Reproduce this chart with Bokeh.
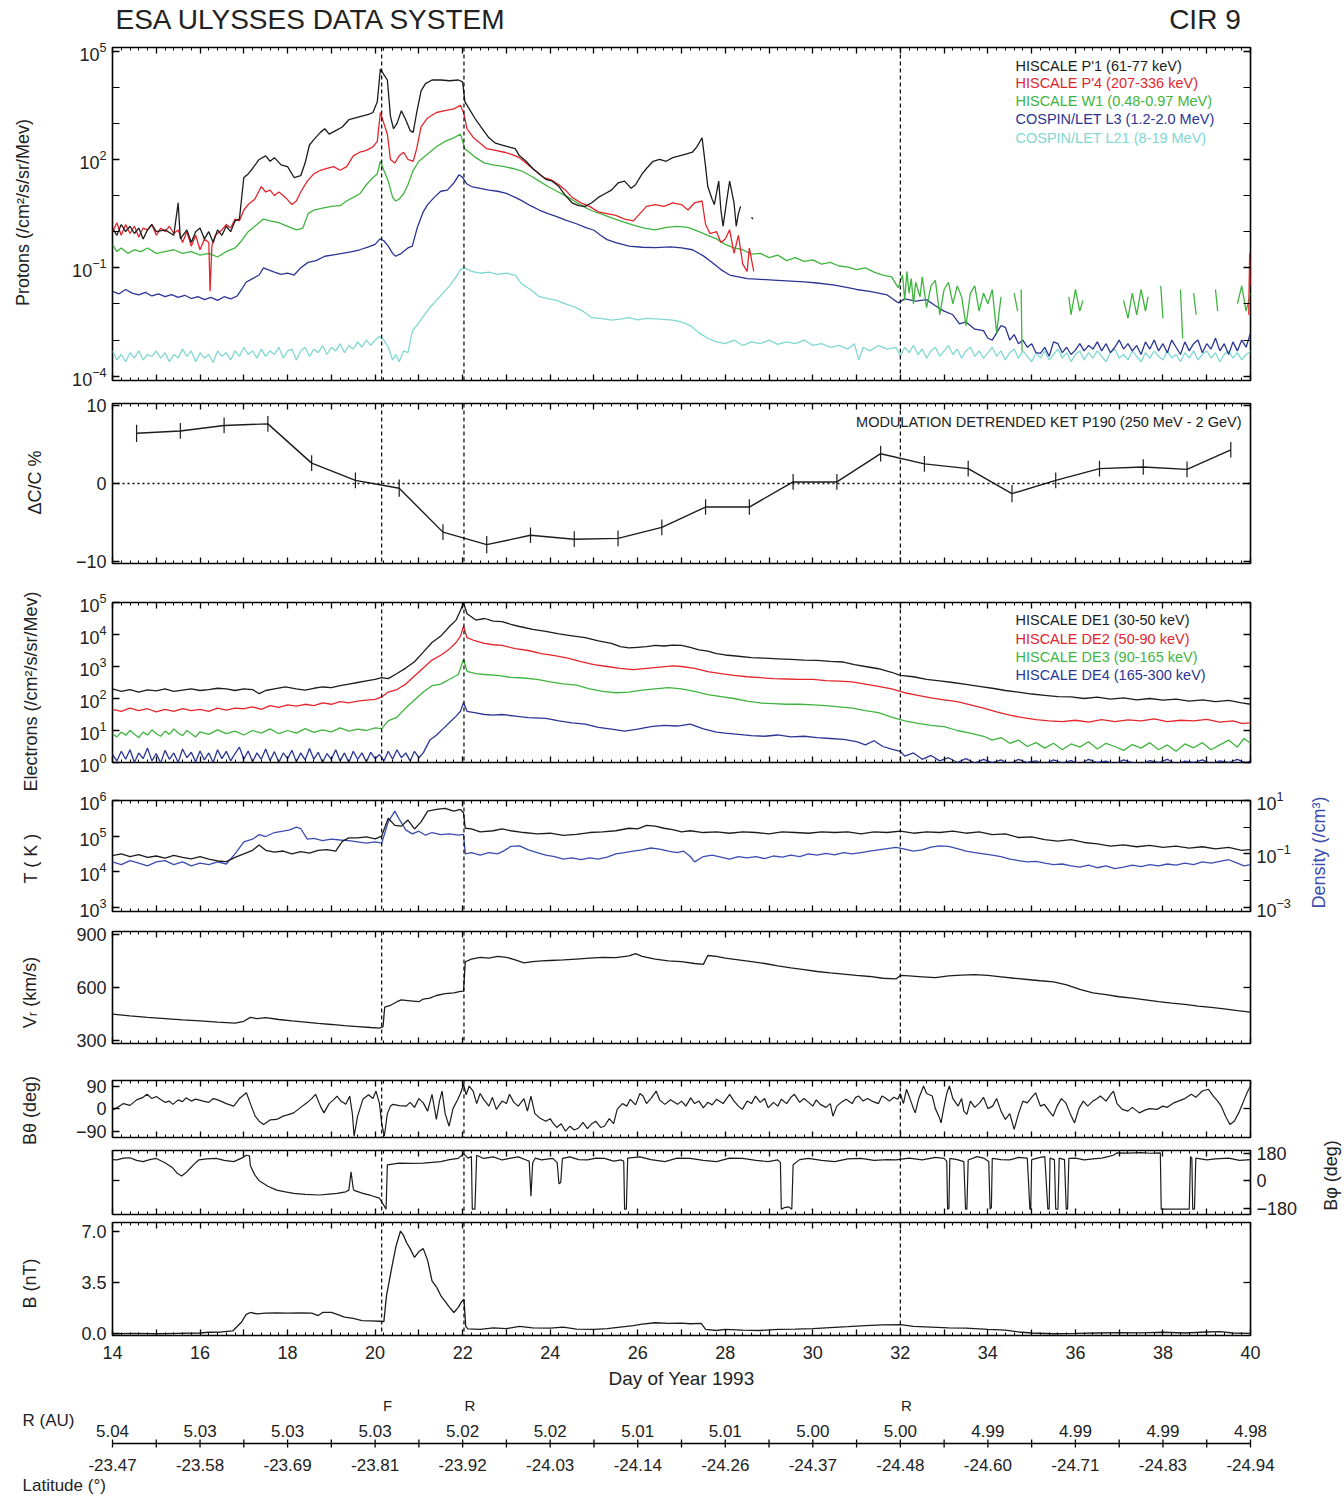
import math
from bokeh.plotting import figure
from bokeh.layouts import column, row
from bokeh.models import Range1d, LinearAxis, LogAxis, FixedTicker, Span, LogScale
from bokeh.embed import file_html
from bokeh.resources import INLINE
from bokeh.core.properties import value

NAN = float("nan")
FONT = "Liberation Sans"

# ---------------- data ----------------
EVENT_DAYS = [20.15, 22.03, 32.0]
EVENT_LABELS = ["F", "R", "R"]

# Protons, (day, log10 flux)
P1 = [(14.0, 0.10), (14.1, -0.10), (14.2, 0.20), (14.3, 0.00), (14.4, 0.15), (14.5, -0.05), (14.6, 0.10),
      (14.7, -0.20), (14.8, 0.05), (14.9, 0.20), (15.0, 0.0), (15.2, 0.05), (15.4, -0.1), (15.5, 0.8),
      (15.55, -0.2), (15.7, 0.05), (15.8, -0.3), (15.9, 0.0), (16.0, 0.1), (16.1, -0.2), (16.2, 0.0),
      (16.3, -0.3), (16.4, 0.05), (16.5, -0.1), (16.6, 0.15), (16.7, 0.0), (16.8, 0.3), (16.9, 0.35),
      (17.0, 1.5), (17.1, 1.6), (17.2, 1.75), (17.35, 2.0), (17.5, 2.1), (17.6, 1.95), (17.7, 2.05),
      (17.85, 1.85), (18.0, 1.8), (18.15, 1.5), (18.3, 1.55), (18.4, 1.9), (18.5, 2.4), (18.6, 2.55),
      (18.75, 2.75), (18.85, 2.85), (18.95, 2.7), (19.1, 2.8), (19.25, 2.9), (19.4, 3.1), (19.55, 3.15),
      (19.7, 3.2), (19.85, 3.25), (19.95, 3.3), (20.05, 3.6), (20.12, 4.5), (20.2, 4.35), (20.28, 4.2),
      (20.35, 3.2), (20.42, 2.85), (20.5, 3.0), (20.6, 3.35), (20.7, 3.1), (20.8, 2.8), (20.87, 2.75),
      (20.95, 3.3), (21.05, 3.9), (21.15, 4.1), (21.3, 4.2), (21.5, 4.2), (21.7, 4.18), (21.9, 4.2),
      (22.0, 4.15), (22.05, 3.6), (22.15, 3.4), (22.3, 3.1), (22.45, 2.85), (22.6, 2.6), (22.75, 2.45),
      (22.9, 2.4), (23.05, 2.35), (23.2, 2.3), (23.3, 2.1), (23.45, 1.95), (23.6, 1.75), (23.75, 1.6),
      (23.9, 1.45), (24.05, 1.4), (24.2, 1.25), (24.35, 1.0), (24.5, 0.8), (24.65, 0.72), (24.8, 0.7),
      (24.95, 0.8), (25.1, 0.95), (25.25, 1.05), (25.4, 1.15), (25.55, 1.35), (25.7, 1.4), (25.85, 1.2),
      (25.95, 1.3), (26.1, 1.6), (26.2, 1.75), (26.35, 1.95), (26.5, 2.0), (26.65, 1.95), (26.8, 2.05),
      (26.95, 2.1), (27.1, 2.15), (27.25, 2.2), (27.35, 2.35), (27.47, 2.6), (27.55, 1.8), (27.6, 1.25),
      (27.7, 0.9), (27.75, 0.75), (27.85, 1.4), (27.9, 0.6), (27.95, 0.15), (28.05, 1.0), (28.1, 1.4),
      (28.2, 0.8), (28.25, 0.15), (28.3, 0.5), (28.35, 0.7), (28.45, NAN), (28.6, 0.4), (28.63, 0.35)]

P4 = [(14.0, 0.0), (14.1, 0.25), (14.2, -0.1), (14.3, 0.2), (14.4, -0.05), (14.5, 0.15), (14.6, -0.15),
      (14.7, 0.1), (14.8, 0.05), (14.9, 0.2), (15.0, -0.1), (15.1, 0.1), (15.2, 0.0), (15.3, 0.15),
      (15.4, -0.05), (15.5, 0.05), (15.6, -0.3), (15.7, 0.0), (15.8, -0.4), (15.9, -0.1), (16.0, -0.5),
      (16.1, -0.2), (16.2, -0.3), (16.23, -1.65), (16.27, -0.4), (16.35, -0.1), (16.5, 0.05), (16.6, 0.2),
      (16.7, 0.1), (16.8, 0.35), (16.9, 0.3), (17.0, 0.6), (17.1, 0.75), (17.25, 0.9), (17.4, 1.25),
      (17.5, 1.1), (17.6, 1.15), (17.7, 1.0), (17.8, 1.1), (17.95, 0.95), (18.1, 0.75), (18.2, 0.85),
      (18.3, 1.1), (18.45, 1.4), (18.6, 1.6), (18.75, 1.7), (18.9, 1.75), (19.05, 1.8), (19.2, 1.7),
      (19.35, 1.8), (19.5, 2.1), (19.65, 2.2), (19.8, 2.25), (19.95, 2.35), (20.05, 2.5), (20.12, 3.3),
      (20.2, 3.0), (20.28, 2.7), (20.35, 2.0), (20.45, 1.9), (20.55, 2.1), (20.65, 2.2), (20.75, 2.0),
      (20.87, 1.95), (20.95, 2.3), (21.05, 2.9), (21.2, 3.15), (21.4, 3.3), (21.6, 3.35), (21.8, 3.4),
      (21.95, 3.5), (22.02, 3.3), (22.1, 2.85), (22.25, 2.6), (22.4, 2.45), (22.55, 2.3), (22.75, 2.25),
      (22.95, 2.2), (23.1, 2.15), (23.3, 2.05), (23.5, 1.85), (23.7, 1.65), (23.85, 1.5), (24.0, 1.45),
      (24.2, 1.3), (24.35, 1.15), (24.5, 0.95), (24.7, 0.8), (24.9, 0.7), (25.1, 0.55), (25.3, 0.5),
      (25.5, 0.45), (25.7, 0.35), (25.9, 0.3), (26.05, 0.5), (26.2, 0.7), (26.4, 0.75), (26.6, 0.7),
      (26.8, 0.8), (27.0, 0.75), (27.15, 0.6), (27.3, 0.8), (27.47, 0.85), (27.55, 0.2), (27.65, -0.05),
      (27.8, 0.0), (27.9, -0.3), (28.0, -0.2), (28.1, 0.05), (28.2, -0.6), (28.3, -0.1), (28.4, -0.9),
      (28.5, -1.1), (28.55, -0.45), (28.65, -1.1), (28.7, NAN), (39.96, -2.3), (39.98, -0.6), (40.0, -1.5)]

W1 = [(14.0, -0.35), (14.1, -0.55), (14.2, -0.45), (14.35, -0.6), (14.5, -0.5), (14.65, -0.55), (14.8, -0.45),
      (15.0, -0.6), (15.2, -0.55), (15.4, -0.5), (15.6, -0.6), (15.8, -0.55), (16.0, -0.65), (16.2, -0.6),
      (16.4, -0.7), (16.6, -0.55), (16.8, -0.45), (16.95, -0.25), (17.1, 0.0), (17.25, 0.15), (17.45, 0.35),
      (17.6, 0.3), (17.8, 0.25), (18.0, 0.15), (18.2, 0.05), (18.35, 0.1), (18.47, 0.5), (18.6, 0.6),
      (18.8, 0.65), (19.0, 0.7), (19.2, 0.72), (19.35, 0.85), (19.5, 0.95), (19.65, 1.05), (19.8, 1.3),
      (19.95, 1.5), (20.05, 1.6), (20.12, 1.95), (20.2, 1.7), (20.3, 1.4), (20.4, 0.95), (20.47, 0.85),
      (20.55, 0.9), (20.65, 1.05), (20.75, 1.3), (20.87, 1.7), (21.0, 1.95), (21.2, 2.15), (21.4, 2.35),
      (21.6, 2.5), (21.8, 2.6), (21.95, 2.7), (22.05, 2.3), (22.15, 2.2), (22.3, 2.05), (22.5, 1.9),
      (22.7, 1.85), (22.95, 1.8), (23.15, 1.75), (23.35, 1.68), (23.55, 1.55), (23.75, 1.4), (23.95, 1.25),
      (24.15, 1.12), (24.35, 1.0), (24.55, 0.85), (24.75, 0.7), (24.95, 0.58), (25.15, 0.5), (25.4, 0.38),
      (25.65, 0.28), (25.9, 0.18), (26.15, 0.1), (26.4, 0.05), (26.65, 0.12), (26.9, 0.15), (27.15, 0.12),
      (27.4, 0.0), (27.6, -0.1), (27.8, -0.2), (28.0, -0.35), (28.2, -0.45), (28.4, -0.5), (28.6, -0.62),
      (28.8, -0.6), (29.0, -0.72), (29.2, -0.65), (29.4, -0.8), (29.6, -0.72), (29.8, -0.82), (30.0, -0.78),
      (30.2, -0.9), (30.4, -0.85), (30.6, -0.95), (30.8, -0.98), (31.0, -1.05), (31.2, -1.0), (31.4, -1.12),
      (31.6, -1.2), (31.8, -1.25), (31.95, -1.55), (32.05, -1.2), (32.1, -1.9), (32.15, -1.1), (32.2, -1.7),
      (32.25, -1.3), (32.3, -2.0), (32.35, -1.4), (32.45, -1.8), (32.5, -1.25), (32.6, -2.1), (32.7, -1.5),
      (32.8, -1.35), (32.9, -2.3), (33.0, -1.6), (33.1, -1.4), (33.2, -2.0), (33.3, -1.5), (33.4, -1.8),
      (33.5, -2.6), (33.6, -1.7), (33.7, -1.5), (33.8, -2.2), (33.9, -1.7), (34.0, -2.0), (34.1, -1.6),
      (34.2, -2.8), (34.3, -1.8), (34.35, NAN), (34.6, -1.7), (34.68, -2.2), (34.72, NAN), (34.76, -1.6),
      (34.78, -3.3), (34.8, NAN), (35.85, -1.8), (35.9, -2.3), (36.0, -1.6), (36.1, -2.2), (36.17, -1.9),
      (36.2, NAN), (37.1, -1.9), (37.2, -2.4), (37.3, -1.7), (37.4, -2.3), (37.5, -1.6), (37.6, -2.2),
      (37.66, -1.8), (37.7, NAN), (37.95, -1.5), (38.0, -2.4), (38.05, NAN), (38.4, -1.6), (38.45, -2.95),
      (38.5, NAN), (38.7, -1.7), (38.76, -2.3), (38.8, NAN), (39.2, -1.6), (39.25, -2.2), (39.3, NAN),
      (39.7, -2.0), (39.8, -1.5), (39.9, -2.2), (40.0, -1.7)]

L3 = [(14.0, -1.65), (14.15, -1.72), (14.3, -1.6), (14.45, -1.7), (14.6, -1.75), (14.75, -1.68), (14.9, -1.78),
      (15.05, -1.72), (15.2, -1.8), (15.35, -1.74), (15.5, -1.82), (15.65, -1.76), (15.8, -1.85), (15.95, -1.8),
      (16.1, -1.88), (16.25, -1.82), (16.4, -1.9), (16.55, -1.8), (16.7, -1.86), (16.85, -1.78), (16.95, -1.6),
      (17.05, -1.4), (17.2, -1.3), (17.35, -1.2), (17.45, -1.0), (17.55, -1.05), (17.7, -1.12), (17.85, -1.18),
      (18.0, -1.15), (18.15, -1.2), (18.3, -1.0), (18.47, -0.85), (18.65, -0.8), (18.85, -0.68), (19.05, -0.64),
      (19.25, -0.6), (19.45, -0.56), (19.65, -0.5), (19.85, -0.42), (20.0, -0.35), (20.11, -0.2), (20.2, -0.25),
      (20.3, -0.4), (20.4, -0.6), (20.47, -0.68), (20.6, -0.6), (20.75, -0.45), (20.85, -0.4), (20.96, 0.1),
      (21.1, 0.55), (21.2, 0.75), (21.35, 0.95), (21.5, 1.12), (21.65, 1.15), (21.8, 1.35), (21.92, 1.58),
      (22.0, 1.5), (22.1, 1.32), (22.2, 1.25), (22.4, 1.2), (22.6, 1.15), (22.8, 1.12), (23.0, 1.06),
      (23.2, 0.95), (23.35, 0.86), (23.55, 0.72), (23.75, 0.6), (23.95, 0.5), (24.15, 0.42), (24.35, 0.32),
      (24.6, 0.22), (24.8, 0.12), (25.0, 0.04), (25.15, -0.1), (25.3, -0.22), (25.5, -0.3), (25.8, -0.4),
      (26.1, -0.43), (26.4, -0.44), (26.75, -0.42), (27.0, -0.45), (27.25, -0.5), (27.5, -0.67), (27.7, -0.85),
      (27.9, -1.05), (28.1, -1.2), (28.3, -1.25), (28.5, -1.3), (28.8, -1.32), (29.1, -1.34), (29.4, -1.36),
      (29.8, -1.39), (30.1, -1.42), (30.5, -1.48), (30.8, -1.55), (31.0, -1.6), (31.3, -1.65), (31.7, -1.75),
      (31.95, -1.97), (32.1, -1.86), (32.35, -1.92), (32.6, -1.88), (32.8, -2.05), (33.0, -2.2), (33.2, -2.3),
      (33.35, -2.55), (33.5, -2.5), (33.7, -2.7), (33.9, -2.74), (34.0, -2.95), (34.1, -3.0), (34.2, -2.8),
      (34.3, -2.6), (34.4, -2.65), (34.5, -3.0), (34.6, -2.85), (34.7, -3.1), (34.8, -3.0), (34.9, -3.2),
      (35.0, -3.1), (35.1, -3.35), (35.2, -3.37), (35.3, -3.2), (35.4, -3.45), (35.5, -3.05), (35.6, -3.1),
      (35.7, -3.35), (35.8, -3.2), (35.9, -3.4), (36.0, -3.28), (36.1, -3.1), (36.2, -3.3), (36.3, -3.15),
      (36.4, -3.25), (36.5, -3.05), (36.6, -3.3), (36.7, -3.1), (36.8, -3.35), (36.9, -3.2), (37.0, -3.0),
      (37.1, -3.25), (37.2, -3.1), (37.3, -3.3), (37.4, -3.15), (37.5, -3.4), (37.6, -3.05), (37.7, -3.25),
      (37.8, -3.0), (37.9, -3.3), (38.0, -3.1), (38.1, -3.35), (38.2, -3.0), (38.3, -3.2), (38.4, -3.4),
      (38.5, -3.05), (38.6, -3.3), (38.7, -3.1), (38.8, -3.0), (38.9, -3.35), (39.0, -3.1), (39.1, -3.25),
      (39.2, -2.95), (39.3, -3.3), (39.4, -3.1), (39.5, -3.4), (39.6, -3.05), (39.7, -3.3), (39.8, -3.0),
      (39.9, -3.2), (40.0, -2.8)]

L21 = [(14.0, -3.3), (14.1, -3.55), (14.2, -3.4), (14.3, -3.6), (14.4, -3.35), (14.5, -3.5), (14.6, -3.3),
       (14.7, -3.55), (14.8, -3.4), (14.9, -3.45), (15.0, -3.3), (15.1, -3.5), (15.2, -3.35), (15.3, -3.6),
       (15.4, -3.4), (15.5, -3.5), (15.6, -3.25), (15.7, -3.45), (15.8, -3.3), (15.9, -3.6), (16.0, -3.35),
       (16.1, -3.5), (16.2, -3.4), (16.3, -3.62), (16.4, -3.3), (16.5, -3.45), (16.6, -3.35), (16.7, -3.55),
       (16.8, -3.3), (16.9, -3.45), (17.0, -3.2), (17.1, -3.4), (17.2, -3.3), (17.3, -3.5), (17.4, -3.25),
       (17.5, -3.45), (17.6, -3.3), (17.7, -3.4), (17.8, -3.2), (17.9, -3.5), (18.0, -3.3), (18.1, -3.25),
       (18.2, -3.55), (18.3, -3.3), (18.4, -3.2), (18.5, -3.45), (18.6, -3.25), (18.7, -3.35), (18.8, -3.15),
       (18.9, -3.4), (19.0, -3.2), (19.1, -3.3), (19.2, -3.1), (19.3, -3.35), (19.4, -3.15), (19.5, -3.25),
       (19.6, -3.05), (19.7, -3.2), (19.8, -3.0), (19.9, -3.15), (20.0, -3.0), (20.1, -2.9), (20.2, -3.0),
       (20.3, -3.2), (20.4, -3.55), (20.47, -3.4), (20.55, -3.6), (20.65, -3.3), (20.75, -3.35), (20.85, -2.75),
       (20.95, -2.6), (21.1, -2.35), (21.25, -2.1), (21.4, -1.9), (21.55, -1.7), (21.7, -1.5), (21.85, -1.25),
       (21.95, -1.05), (22.05, -1.0), (22.2, -1.1), (22.4, -1.15), (22.6, -1.12), (22.8, -1.18), (23.0, -1.15),
       (23.2, -1.2), (23.35, -1.45), (23.55, -1.6), (23.75, -1.8), (23.95, -1.85), (24.15, -1.9), (24.35, -2.0),
       (24.55, -2.08), (24.75, -2.2), (24.95, -2.38), (25.15, -2.4), (25.4, -2.45), (25.6, -2.42), (25.8, -2.38),
       (26.0, -2.44), (26.2, -2.4), (26.5, -2.42), (26.8, -2.45), (27.0, -2.5), (27.2, -2.6), (27.4, -2.8),
       (27.6, -2.95), (27.8, -3.05), (28.0, -3.1), (28.2, -3.0), (28.4, -3.15), (28.6, -3.05), (28.8, -3.1),
       (29.0, -3.0), (29.2, -3.12), (29.4, -3.05), (29.6, -3.1), (29.8, -3.0), (30.0, -3.15), (30.2, -3.1),
       (30.4, -3.2), (30.6, -3.15), (30.8, -3.25), (30.95, -3.1), (31.05, -3.55), (31.15, -3.2), (31.3, -3.3),
       (31.5, -3.15), (31.7, -3.25), (31.9, -3.2), (32.0, -3.45), (32.1, -3.2), (32.2, -3.35), (32.3, -3.15),
       (32.4, -3.4), (32.5, -3.25), (32.6, -3.5), (32.7, -3.3), (32.8, -3.2), (32.9, -3.45), (33.0, -3.3),
       (33.1, -3.15), (33.2, -3.4), (33.3, -3.25), (33.4, -3.5), (33.5, -3.3), (33.6, -3.2), (33.7, -3.45),
       (33.8, -3.3), (33.9, -3.5), (34.0, -3.35), (34.1, -3.2), (34.2, -3.45), (34.3, -3.3), (34.4, -3.55),
       (34.5, -3.35), (34.6, -3.25), (34.7, -3.5), (34.8, -3.3), (34.9, -3.45), (35.0, -3.6), (35.1, -3.35),
       (35.2, -3.5), (35.3, -3.3), (35.4, -3.55), (35.5, -3.4), (35.6, -3.25), (35.7, -3.5), (35.8, -3.35),
       (35.9, -3.6), (36.0, -3.4), (36.1, -3.3), (36.2, -3.55), (36.3, -3.35), (36.4, -3.5), (36.5, -3.3),
       (36.6, -3.45), (36.7, -3.6), (36.8, -3.35), (36.9, -3.25), (37.0, -3.5), (37.1, -3.4), (37.2, -3.55),
       (37.3, -3.3), (37.4, -3.45), (37.5, -3.6), (37.6, -3.35), (37.7, -3.5), (37.8, -3.3), (37.9, -3.45),
       (38.0, -3.55), (38.1, -3.3), (38.2, -3.5), (38.3, -3.4), (38.4, -3.6), (38.5, -3.35), (38.6, -3.5),
       (38.7, -3.3), (38.8, -3.55), (38.9, -3.4), (39.0, -3.3), (39.1, -3.5), (39.2, -3.35), (39.3, -3.6),
       (39.4, -3.4), (39.5, -3.3), (39.6, -3.5), (39.7, -3.35), (39.8, -3.55), (39.9, -3.4), (40.0, -3.3)]

PROTON_LEGEND = ["HISCALE P'1 (61-77 keV)", "HISCALE P'4 (207-336 keV)", "HISCALE W1 (0.48-0.97 MeV)",
                 "COSPIN/LET L3 (1.2-2.0 MeV)", "COSPIN/LET L21 (8-19 MeV)"]

# Cosmic-ray modulation, percent
DCC_DAY = [14.55, 15.55, 16.55, 17.55, 18.55, 19.55, 20.55, 21.55, 22.55, 23.55, 24.55, 25.55, 26.55,
           27.55, 28.55, 29.55, 30.55, 31.55, 32.55, 33.55, 34.55, 35.55, 36.55, 37.55, 38.55, 39.55]
DCC_VAL = [6.4, 6.7, 7.4, 7.6, 2.6, 0.4, -0.6, -6.2, -7.8, -6.6, -7.1, -7.0, -5.6,
           -3.0, -3.0, 0.2, 0.2, 3.8, 2.5, 1.9, -1.3, 0.4, 1.9, 2.1, 1.8, 4.3]
DCC_ERR = [1.1, 1.0, 1.0, 1.0, 1.0, 1.0, 1.1, 1.0, 1.1, 1.0, 1.0, 1.0, 1.0,
           1.0, 1.0, 1.0, 1.0, 1.0, 1.0, 1.0, 1.1, 1.0, 1.0, 1.0, 1.0, 1.0]

# Electrons, (day, log10 flux)
DE1 = [(14.0, 2.3), (14.2, 2.22), (14.4, 2.28), (14.6, 2.2), (14.8, 2.27), (15.0, 2.24), (15.2, 2.3), (15.4, 2.22),
       (15.6, 2.26), (15.8, 2.3), (16.0, 2.25), (16.2, 2.28), (16.4, 2.32), (16.6, 2.3), (16.8, 2.25), (17.0, 2.3),
       (17.2, 2.28), (17.35, 2.15), (17.5, 2.25), (17.7, 2.3), (17.95, 2.36), (18.2, 2.3), (18.4, 2.26), (18.6, 2.32),
       (18.8, 2.36), (19.0, 2.34), (19.2, 2.4), (19.4, 2.45), (19.6, 2.5), (19.8, 2.55), (20.0, 2.6), (20.15, 2.65),
       (20.3, 2.62), (20.5, 2.78), (20.7, 2.95), (20.9, 3.15), (21.1, 3.45), (21.3, 3.75), (21.5, 3.95), (21.7, 4.25),
       (21.85, 4.45), (21.95, 4.75), (22.02, 4.99), (22.1, 4.65), (22.3, 4.45), (22.5, 4.5), (22.7, 4.42), (22.9, 4.4),
       (23.1, 4.32), (23.3, 4.25), (23.6, 4.16), (23.9, 4.1), (24.2, 4.02), (24.5, 3.96), (24.8, 3.9), (25.1, 3.8),
       (25.4, 3.72), (25.6, 3.62), (25.8, 3.58), (26.0, 3.6), (26.2, 3.62), (26.4, 3.66), (26.6, 3.64), (26.8, 3.67),
       (27.0, 3.66), (27.2, 3.6), (27.4, 3.52), (27.6, 3.48), (27.8, 3.4), (28.0, 3.36), (28.3, 3.32), (28.6, 3.28),
       (28.9, 3.26), (29.2, 3.24), (29.5, 3.22), (29.8, 3.2), (30.1, 3.19), (30.4, 3.16), (30.7, 3.14), (30.95, 3.06),
       (31.2, 3.0), (31.5, 2.93), (31.8, 2.82), (32.0, 2.72), (32.3, 2.68), (32.6, 2.6), (32.9, 2.55), (33.2, 2.5),
       (33.5, 2.44), (33.8, 2.38), (34.1, 2.32), (34.4, 2.25), (34.7, 2.2), (35.0, 2.14), (35.3, 2.1), (35.6, 2.06),
       (35.9, 2.05), (36.2, 2.0), (36.5, 2.04), (36.8, 1.98), (37.1, 2.02), (37.4, 1.96), (37.7, 2.0), (38.0, 1.95),
       (38.3, 1.98), (38.6, 1.92), (38.9, 1.96), (39.2, 1.9), (39.5, 1.94), (39.8, 1.86), (40.0, 1.82)]

DE2 = [(14.0, 1.66), (14.2, 1.6), (14.4, 1.7), (14.6, 1.62), (14.8, 1.68), (15.0, 1.58), (15.2, 1.66), (15.4, 1.6),
       (15.6, 1.68), (15.8, 1.62), (16.0, 1.66), (16.2, 1.6), (16.4, 1.7), (16.6, 1.64), (16.8, 1.7), (17.0, 1.68),
       (17.2, 1.74), (17.4, 1.66), (17.6, 1.78), (17.8, 1.72), (18.0, 1.8), (18.2, 1.76), (18.4, 1.82), (18.6, 1.78),
       (18.8, 1.86), (19.0, 1.82), (19.2, 1.9), (19.4, 1.86), (19.6, 1.92), (19.8, 1.95), (20.0, 1.97), (20.15, 2.05),
       (20.3, 2.2), (20.5, 2.28), (20.7, 2.45), (20.9, 2.7), (21.1, 2.95), (21.3, 3.2), (21.5, 3.35), (21.7, 3.55),
       (21.85, 3.75), (21.95, 3.95), (22.02, 4.26), (22.1, 3.9), (22.25, 3.82), (22.5, 3.72), (22.7, 3.68), (22.9, 3.66),
       (23.2, 3.56), (23.5, 3.5), (23.8, 3.4), (24.1, 3.34), (24.4, 3.26), (24.7, 3.15), (25.0, 3.06), (25.3, 3.0),
       (25.6, 2.94), (25.9, 2.9), (26.2, 2.94), (26.5, 2.98), (26.8, 3.02), (27.0, 3.0), (27.3, 2.94), (27.6, 2.84),
       (27.9, 2.78), (28.2, 2.72), (28.5, 2.68), (28.8, 2.65), (29.1, 2.62), (29.4, 2.61), (29.7, 2.6), (30.0, 2.6),
       (30.3, 2.56), (30.6, 2.54), (30.9, 2.52), (31.2, 2.45), (31.5, 2.38), (31.8, 2.3), (32.1, 2.18), (32.4, 2.1),
       (32.7, 2.02), (33.0, 1.96), (33.3, 1.9), (33.6, 1.8), (33.9, 1.7), (34.2, 1.58), (34.5, 1.48), (34.8, 1.4),
       (35.1, 1.34), (35.4, 1.3), (35.7, 1.28), (36.0, 1.32), (36.3, 1.26), (36.6, 1.34), (36.9, 1.28), (37.2, 1.33),
       (37.5, 1.3), (37.8, 1.36), (38.1, 1.28), (38.4, 1.32), (38.7, 1.3), (39.0, 1.35), (39.3, 1.26), (39.6, 1.3),
       (39.8, 1.22), (40.0, 1.24)]

DE3 = [(14.0, 0.9), (14.1, 0.8), (14.2, 0.95), (14.3, 0.85), (14.4, 1.0), (14.5, 0.88), (14.6, 0.78), (14.7, 0.95),
       (14.8, 0.86), (14.9, 1.02), (15.0, 0.9), (15.1, 0.82), (15.2, 0.98), (15.3, 0.88), (15.4, 1.05), (15.5, 0.92),
       (15.6, 0.84), (15.7, 1.0), (15.8, 0.9), (15.9, 0.8), (16.0, 0.96), (16.2, 0.88), (16.4, 1.02), (16.6, 0.9),
       (16.8, 0.98), (17.0, 0.86), (17.2, 1.0), (17.4, 0.92), (17.6, 1.05), (17.8, 0.9), (18.0, 1.0), (18.2, 0.92),
       (18.4, 1.06), (18.6, 0.94), (18.8, 1.02), (19.0, 0.96), (19.2, 1.08), (19.4, 0.98), (19.6, 1.04), (19.8, 1.0),
       (20.0, 1.08), (20.15, 1.06), (20.3, 1.3), (20.5, 1.42), (20.7, 1.7), (20.9, 1.95), (21.1, 2.2), (21.3, 2.4),
       (21.5, 2.45), (21.7, 2.6), (21.9, 2.75), (22.02, 3.22), (22.1, 2.85), (22.3, 2.78), (22.5, 2.75), (22.8, 2.72),
       (23.1, 2.66), (23.4, 2.64), (23.7, 2.6), (24.0, 2.52), (24.3, 2.46), (24.6, 2.42), (24.9, 2.3), (25.2, 2.22),
       (25.5, 2.18), (25.8, 2.2), (26.1, 2.26), (26.4, 2.3), (26.7, 2.34), (27.0, 2.3), (27.3, 2.22), (27.6, 2.12),
       (27.9, 2.06), (28.2, 2.0), (28.5, 1.92), (28.8, 1.86), (29.1, 1.84), (29.4, 1.82), (29.7, 1.82), (30.0, 1.8),
       (30.3, 1.78), (30.6, 1.74), (30.9, 1.7), (31.2, 1.62), (31.5, 1.56), (31.8, 1.42), (32.1, 1.3), (32.4, 1.22),
       (32.7, 1.16), (33.0, 1.12), (33.3, 1.0), (33.6, 0.92), (33.9, 0.82), (34.1, 0.7), (34.3, 0.78), (34.5, 0.6),
       (34.7, 0.7), (34.9, 0.5), (35.1, 0.62), (35.3, 0.45), (35.5, 0.6), (35.7, 0.4), (35.9, 0.58), (36.1, 0.48),
       (36.3, 0.65), (36.5, 0.42), (36.7, 0.6), (36.9, 0.5), (37.1, 0.38), (37.3, 0.56), (37.5, 0.45), (37.7, 0.62),
       (37.9, 0.4), (38.1, 0.55), (38.3, 0.35), (38.5, 0.58), (38.7, 0.46), (38.9, 0.62), (39.1, 0.4), (39.3, 0.55),
       (39.5, 0.7), (39.7, 0.48), (39.85, 0.75), (40.0, 0.6)]

DE4 = [(14.0, 0.25), (14.1, 0.05), (14.2, 0.35), (14.3, 0.1), (14.4, 0.4), (14.5, 0.0), (14.6, 0.3), (14.7, 0.12),
       (14.8, 0.45), (14.9, 0.05), (15.0, 0.28), (15.1, -0.02), (15.2, 0.38), (15.3, 0.1), (15.4, 0.3), (15.5, 0.0),
       (15.6, 0.42), (15.7, 0.15), (15.8, 0.32), (15.9, 0.02), (16.0, 0.36), (16.1, 0.08), (16.2, 0.3), (16.3, 0.0),
       (16.4, 0.4), (16.5, 0.12), (16.6, 0.35), (16.7, 0.05), (16.8, 0.28), (16.9, 0.48), (17.0, 0.1), (17.1, 0.36),
       (17.2, 0.02), (17.3, 0.3), (17.4, 0.1), (17.5, 0.42), (17.6, 0.06), (17.7, 0.34), (17.8, 0.0), (17.9, 0.3),
       (18.0, 0.12), (18.1, 0.38), (18.2, 0.02), (18.3, 0.3), (18.4, 0.08), (18.5, 0.44), (18.6, 0.1), (18.7, 0.32),
       (18.8, 0.0), (18.9, 0.28), (19.0, 0.1), (19.1, 0.4), (19.2, 0.05), (19.3, 0.3), (19.4, 0.0), (19.5, 0.35),
       (19.6, 0.1), (19.7, 0.3), (19.8, 0.02), (19.9, 0.32), (20.0, 0.12), (20.1, 0.25), (20.2, 0.05), (20.3, 0.35),
       (20.4, 0.1), (20.5, 0.4), (20.6, 0.15), (20.7, 0.3), (20.8, 0.05), (20.9, 0.35), (21.0, 0.15), (21.1, 0.3),
       (21.25, 0.7), (21.4, 0.85), (21.55, 1.05), (21.7, 1.25), (21.85, 1.45), (21.95, 1.6), (22.02, 1.87), (22.1, 1.6),
       (22.3, 1.55), (22.5, 1.5), (22.7, 1.48), (22.9, 1.5), (23.2, 1.45), (23.5, 1.4), (23.9, 1.38), (24.2, 1.3),
       (24.5, 1.24), (24.8, 1.2), (25.1, 1.1), (25.4, 1.04), (25.7, 0.98), (26.0, 1.04), (26.3, 1.12), (26.6, 1.16),
       (26.9, 1.14), (27.2, 1.2), (27.5, 1.05), (27.8, 0.95), (28.0, 0.92), (28.3, 0.88), (28.6, 0.84), (28.9, 0.82),
       (29.2, 0.86), (29.5, 0.8), (29.8, 0.82), (30.1, 0.78), (30.4, 0.75), (30.7, 0.72), (31.0, 0.65), (31.2, 0.55),
       (31.4, 0.68), (31.6, 0.5), (31.8, 0.42), (32.0, 0.35), (32.1, 0.2), (32.3, 0.3), (32.5, 0.1), (32.7, 0.22),
       (32.9, 0.05), (33.1, 0.15), (33.3, 0.0), (33.5, 0.12), (33.7, -0.02), (33.9, 0.1), (34.1, 0.0), (34.3, 0.08),
       (34.5, -0.05), (34.7, 0.1), (34.9, 0.0), (35.1, 0.05), (35.3, -0.05), (35.5, 0.08), (35.7, -0.02), (35.9, 0.06),
       (36.1, -0.05), (36.3, 0.1), (36.5, 0.0), (36.7, 0.04), (36.9, -0.05), (37.1, 0.08), (37.3, 0.0), (37.5, -0.05),
       (37.7, 0.06), (37.9, 0.0), (38.1, 0.1), (38.3, -0.05), (38.5, 0.04), (38.7, 0.0), (38.9, 0.08), (39.1, -0.04),
       (39.3, 0.05), (39.5, 0.0), (39.7, 0.1), (39.9, -0.02), (40.0, 0.05)]

ELECTRON_LEGEND = ["HISCALE DE1 (30-50 keV)", "HISCALE DE2 (50-90 keV)", "HISCALE DE3 (90-165 keV)",
                   "HISCALE DE4 (165-300 keV)"]

# Temperature (log10 K) and density (log10 /cm3)
TEMP = [(14.0, 4.45), (14.2, 4.5), (14.4, 4.42), (14.6, 4.48), (14.8, 4.4), (15.0, 4.44), (15.2, 4.38), (15.4, 4.46),
        (15.6, 4.4), (15.8, 4.36), (16.0, 4.42), (16.2, 4.35), (16.4, 4.3), (16.6, 4.28), (16.8, 4.4), (17.0, 4.5),
        (17.2, 4.6), (17.35, 4.75), (17.5, 4.6), (17.7, 4.55), (17.9, 4.58), (18.1, 4.5), (18.3, 4.56), (18.5, 4.52),
        (18.7, 4.6), (18.9, 4.62), (19.1, 4.58), (19.25, 4.85), (19.4, 4.95), (19.6, 4.95), (19.8, 4.98), (20.0, 4.92),
        (20.15, 5.0), (20.3, 5.5), (20.45, 5.3), (20.6, 5.28), (20.75, 5.45), (20.9, 5.2), (21.05, 5.4), (21.2, 5.7),
        (21.4, 5.75), (21.6, 5.78), (21.8, 5.7), (21.95, 5.75), (22.02, 5.65), (22.06, 5.22), (22.2, 5.2), (22.4, 5.12),
        (22.7, 5.15), (22.9, 5.2), (23.1, 5.15), (23.4, 5.1), (23.7, 5.06), (24.0, 5.08), (24.3, 5.02), (24.6, 5.05),
        (24.9, 5.1), (25.2, 5.12), (25.5, 5.15), (25.8, 5.22), (26.0, 5.2), (26.2, 5.3), (26.4, 5.28), (26.6, 5.22),
        (26.8, 5.18), (27.0, 5.12), (27.2, 5.15), (27.5, 5.1), (27.8, 5.12), (28.1, 5.08), (28.4, 5.12), (28.7, 5.1),
        (29.0, 5.06), (29.3, 5.12), (29.6, 5.1), (29.9, 5.08), (30.2, 5.12), (30.5, 5.1), (30.8, 5.12), (31.1, 5.06),
        (31.4, 5.12), (31.7, 5.1), (32.0, 5.14), (32.3, 5.08), (32.6, 5.12), (32.9, 5.1), (33.2, 5.14), (33.5, 5.08),
        (33.8, 5.12), (34.1, 5.04), (34.4, 5.06), (34.7, 4.96), (35.0, 4.98), (35.3, 4.9), (35.6, 4.86), (35.9, 4.9),
        (36.2, 4.82), (36.5, 4.78), (36.8, 4.72), (37.1, 4.75), (37.4, 4.7), (37.7, 4.74), (38.0, 4.68), (38.3, 4.72),
        (38.6, 4.66), (38.9, 4.7), (39.2, 4.64), (39.5, 4.68), (39.8, 4.6), (40.0, 4.62)]

DENS = [(14.0, -1.3), (14.2, -1.4), (14.4, -1.25), (14.6, -1.35), (14.8, -1.45), (15.0, -1.3), (15.2, -1.25),
        (15.4, -1.4), (15.6, -1.3), (15.8, -1.45), (16.0, -1.35), (16.2, -1.4), (16.4, -1.3), (16.6, -1.38),
        (16.8, -1.0), (17.0, -0.55), (17.2, -0.45), (17.35, -0.28), (17.5, -0.35), (17.7, -0.2), (17.9, -0.15),
        (18.05, -0.1), (18.2, 0.0), (18.3, -0.05), (18.45, -0.45), (18.6, -0.42), (18.8, -0.5), (19.0, -0.45),
        (19.2, -0.48), (19.4, -0.5), (19.6, -0.55), (19.8, -0.6), (20.0, -0.55), (20.15, -0.6), (20.3, 0.2),
        (20.45, 0.6), (20.55, 0.3), (20.7, -0.1), (20.85, -0.25), (21.0, -0.15), (21.15, -0.3), (21.3, -0.2),
        (21.5, -0.28), (21.7, -0.25), (21.9, -0.3), (22.02, -0.27), (22.06, -1.0), (22.2, -0.95), (22.4, -1.05),
        (22.6, -0.95), (22.8, -1.0), (22.95, -0.88), (23.1, -0.72), (23.3, -0.7), (23.5, -0.85), (23.7, -0.95),
        (23.9, -1.05), (24.1, -1.1), (24.3, -1.2), (24.5, -1.15), (24.7, -1.22), (24.9, -1.15), (25.1, -1.2),
        (25.3, -1.12), (25.5, -1.0), (25.7, -0.95), (25.9, -0.9), (26.1, -0.85), (26.3, -0.78), (26.5, -0.82),
        (26.7, -0.9), (26.9, -0.95), (27.05, -0.9), (27.2, -1.1), (27.3, -1.3), (27.5, -1.1), (27.7, -1.05),
        (27.9, -1.12), (28.1, -1.2), (28.3, -1.1), (28.5, -1.15), (28.7, -1.1), (28.9, -1.18), (29.1, -1.08),
        (29.3, -1.12), (29.5, -1.05), (29.7, -1.1), (29.9, -1.0), (30.1, -1.05), (30.3, -0.98), (30.5, -1.04),
        (30.7, -0.95), (30.9, -1.0), (31.1, -0.95), (31.3, -0.9), (31.5, -0.85), (31.7, -0.8), (31.9, -0.76),
        (32.1, -0.82), (32.3, -0.9), (32.5, -0.85), (32.7, -0.75), (32.9, -0.7), (33.1, -0.72), (33.3, -0.8),
        (33.5, -0.9), (33.7, -0.95), (33.9, -1.0), (34.1, -1.05), (34.3, -1.1), (34.5, -1.2), (34.7, -1.25),
        (34.9, -1.3), (35.1, -1.28), (35.3, -1.35), (35.5, -1.4), (35.7, -1.38), (35.9, -1.45), (36.1, -1.5),
        (36.3, -1.42), (36.5, -1.52), (36.7, -1.45), (36.9, -1.55), (37.1, -1.5), (37.3, -1.42), (37.5, -1.48),
        (37.7, -1.4), (37.9, -1.45), (38.1, -1.38), (38.3, -1.42), (38.5, -1.35), (38.7, -1.4), (38.9, -1.3),
        (39.1, -1.35), (39.3, -1.28), (39.5, -1.22), (39.7, -1.35), (39.85, -1.45), (40.0, -1.4)]

# Radial solar wind speed (km/s)
VR = [(14.0, 450), (14.4, 440), (14.8, 432), (15.2, 425), (15.6, 418), (16.0, 412), (16.4, 405), (16.8, 400),
      (17.0, 410), (17.15, 432), (17.3, 425), (17.5, 430), (17.8, 420), (18.1, 412), (18.4, 405), (18.7, 398),
      (19.0, 392), (19.3, 385), (19.6, 380), (19.9, 375), (20.1, 372), (20.18, 380), (20.22, 490), (20.35, 500),
      (20.5, 520), (20.6, 530), (20.8, 525), (21.0, 520), (21.1, 535), (21.25, 540), (21.4, 555), (21.6, 565),
      (21.8, 570), (21.95, 578), (22.02, 580), (22.06, 745), (22.2, 760), (22.4, 770), (22.6, 765), (22.8, 775),
      (23.0, 770), (23.2, 755), (23.4, 738), (23.6, 745), (23.8, 750), (24.0, 752), (24.3, 755), (24.6, 760),
      (24.9, 765), (25.2, 770), (25.5, 768), (25.8, 778), (25.95, 790), (26.1, 775), (26.4, 760), (26.7, 750),
      (27.0, 745), (27.3, 735), (27.5, 730), (27.6, 780), (27.8, 775), (28.0, 765), (28.3, 755), (28.6, 745),
      (28.9, 735), (29.2, 722), (29.5, 710), (29.8, 700), (30.1, 690), (30.4, 682), (30.7, 675), (31.0, 668),
      (31.3, 662), (31.6, 652), (31.9, 648), (32.0, 668), (32.2, 665), (32.5, 660), (32.8, 655), (33.1, 665),
      (33.4, 670), (33.7, 672), (34.0, 668), (34.3, 660), (34.6, 652), (34.9, 645), (35.2, 638), (35.5, 632),
      (35.8, 615), (36.1, 590), (36.4, 570), (36.7, 560), (37.0, 548), (37.3, 540), (37.6, 530), (37.9, 520),
      (38.2, 512), (38.5, 505), (38.8, 495), (39.1, 488), (39.4, 480), (39.7, 470), (40.0, 462)]

# Field latitude angle (deg)
BTH = [(14.0, -5), (14.1, 3), (14.25, 20), (14.4, 13), (14.55, 35), (14.7, 45), (14.79, 57), (14.9, 40), (15.0, 48),
       (15.09, 37), (15.2, 25), (15.3, 30), (15.38, 17), (15.5, 35), (15.6, 28), (15.68, 43), (15.8, 30), (15.9, 38),
       (16.07, 30), (16.2, 25), (16.3, 40), (16.37, 37), (16.5, 28), (16.6, 20), (16.77, 10), (16.9, 40), (17.06, 63),
       (17.15, 20), (17.26, -30), (17.35, -50), (17.45, -63), (17.6, -45), (17.75, -43), (17.9, -30), (18.0, -25),
       (18.14, -17), (18.3, 5), (18.44, 23), (18.55, 40), (18.64, 57), (18.75, 10), (18.83, -17), (18.95, 20),
       (19.05, 35), (19.13, 50), (19.22, 30), (19.33, 17), (19.42, 50), (19.48, -20), (19.52, -110), (19.6, -30),
       (19.72, 37), (19.85, 55), (19.95, 40), (20.02, 70), (20.1, 20), (20.15, -60), (20.21, -110), (20.28, -20),
       (20.35, 10), (20.41, 17), (20.55, 12), (20.71, 10), (20.8, 25), (20.9, 5), (21.0, 40), (21.1, 23), (21.2, -10),
       (21.3, 57), (21.4, -43), (21.47, 30), (21.53, 70), (21.6, -20), (21.69, -70), (21.78, 0), (21.89, 37),
       (21.95, 60), (22.02, 97), (22.08, 55), (22.15, 90), (22.24, 70), (22.32, 20), (22.4, 60), (22.48, 37),
       (22.6, 10), (22.68, 45), (22.77, -3), (22.9, 30), (23.0, 20), (23.07, 57), (23.17, 25), (23.27, 10),
       (23.4, 40), (23.48, -10), (23.56, 50), (23.65, -20), (23.76, -37), (23.9, -50), (24.0, -40), (24.06, -57),
       (24.15, -75), (24.25, -60), (24.35, -90), (24.45, -70), (24.55, -85), (24.65, -77), (24.75, -55), (24.85, -80),
       (24.95, -60), (25.04, -50), (25.15, -75), (25.24, -70), (25.35, -40), (25.45, -60), (25.53, -3), (25.65, 20),
       (25.75, 10), (25.83, 37), (25.95, 15), (26.05, 60), (26.12, 50), (26.2, 20), (26.3, 40), (26.42, 70),
       (26.5, 35), (26.62, 17), (26.75, 35), (26.91, 17), (27.0, 30), (27.1, 10), (27.21, 43), (27.3, 20), (27.4, 30),
       (27.5, 3), (27.6, 25), (27.7, 15), (27.8, 37), (27.95, 20), (28.1, 57), (28.2, 30), (28.3, 10), (28.39, -3),
       (28.5, 30), (28.6, 20), (28.69, 50), (28.8, 25), (28.9, 40), (28.98, 3), (29.1, 25), (29.2, 10), (29.28, 37),
       (29.4, 20), (29.5, 45), (29.58, 57), (29.7, 25), (29.8, 40), (29.87, 30), (30.0, 10), (30.08, 35), (30.17, 17),
       (30.3, 5), (30.4, 20), (30.46, -30), (30.55, 10), (30.65, 25), (30.76, 37), (30.9, 20), (30.98, 45), (31.05, 50),
       (31.15, 30), (31.25, 40), (31.35, 30), (31.5, 20), (31.58, 50), (31.65, 43), (31.75, 30), (31.85, 45),
       (31.94, 37), (32.0, 60), (32.07, 20), (32.14, 77), (32.22, 40), (32.3, 0), (32.34, -17), (32.42, 40),
       (32.53, 90), (32.6, 60), (32.73, 50), (32.8, 0), (32.88, -30), (32.93, -57), (33.0, 10), (33.06, 60),
       (33.12, 90), (33.2, 40), (33.32, 10), (33.4, 40), (33.45, -10), (33.52, -23), (33.6, 30), (33.7, 5),
       (33.81, 23), (33.9, 45), (34.0, 0), (34.11, 10), (34.2, 40), (34.3, -10), (34.4, -43), (34.5, -20),
       (34.6, -83), (34.7, -20), (34.8, 30), (34.9, 23), (35.0, 45), (35.09, 63), (35.2, 10), (35.29, 17),
       (35.4, -10), (35.49, -30), (35.58, 10), (35.68, 40), (35.78, 23), (35.88, -20), (35.98, -57), (36.08, 0),
       (36.18, 30), (36.28, 10), (36.4, 30), (36.5, 40), (36.57, 50), (36.7, 30), (36.8, 55), (36.87, 70),
       (36.95, 20), (37.07, -3), (37.2, -10), (37.3, 5), (37.46, -17), (37.6, -5), (37.7, 0), (37.86, -3),
       (38.0, 10), (38.1, 5), (38.25, 23), (38.35, 30), (38.5, 40), (38.65, 57), (38.75, 45), (38.9, 70),
       (39.04, 77), (39.15, 50), (39.25, 30), (39.33, 10), (39.43, -30), (39.53, -63), (39.63, -50), (39.73, -17),
       (39.82, 20), (39.92, 63), (40.0, 90)]

# Field azimuth angle (deg)
BPH = [(14.0, 140), (14.1, 138), (14.25, 150), (14.4, 152), (14.55, 135), (14.7, 127), (14.85, 140), (15.0, 148),
       (15.2, 120), (15.38, 85), (15.48, 50), (15.58, 33), (15.68, 55), (15.78, 85), (15.9, 120), (15.97, 138),
       (16.15, 145), (16.37, 148), (16.55, 135), (16.77, 127), (16.95, 150), (17.06, 169), (17.13, 165), (17.15, 100),
       (17.25, 40), (17.35, 2), (17.55, -35), (17.75, -60), (17.95, -72), (18.14, -81), (18.4, -88), (18.73, -92),
       (18.95, -86), (19.13, -81), (19.33, -71), (19.4, -60), (19.45, 60), (19.5, -50), (19.52, -62), (19.72, -81),
       (19.9, -95), (20.1, -113), (20.2, -160), (20.25, -185), (20.28, 106), (20.55, 117), (20.8, 115), (21.1, 117),
       (21.3, 122), (21.5, 127), (21.7, 140), (21.9, 148), (22.02, 179), (22.12, 150), (22.2, 160), (22.22, -185),
       (22.28, -185), (22.32, 169), (22.48, 148), (22.7, 158), (22.9, 138), (23.1, 150), (23.27, 158), (23.45, 138),
       (23.52, 130), (23.56, -100), (23.6, 120), (23.66, 150), (23.8, 138), (24.06, 148), (24.16, 120), (24.2, -19),
       (24.24, -10), (24.28, 148), (24.45, 158), (24.65, 140), (24.85, 138), (25.05, 150), (25.24, 148), (25.45, 130),
       (25.62, 138), (25.68, 130), (25.7, -185), (25.74, -185), (25.77, 150), (26.05, 158), (26.3, 140), (26.62, 127),
       (26.9, 150), (27.2, 148), (27.5, 135), (27.8, 127), (28.1, 150), (28.4, 148), (28.7, 135), (28.98, 127),
       (29.2, 138), (29.26, 120), (29.28, -185), (29.35, -175), (29.45, -170), (29.52, -185), (29.55, 106),
       (29.7, 140), (29.9, 148), (30.2, 135), (30.5, 127), (30.8, 145), (31.1, 148), (31.4, 135), (31.7, 140),
       (31.9, 138), (32.2, 150), (32.5, 138), (32.8, 155), (33.0, 148), (33.06, 130), (33.08, -185), (33.11, -180),
       (33.13, 148), (33.3, 140), (33.45, 127), (33.49, -185), (33.52, -185), (33.55, 138), (33.75, 160),
       (33.9, 150), (34.02, 127), (34.05, -185), (34.08, -175), (34.1, 148), (34.3, 140), (34.5, 138), (34.7, 155),
       (34.9, 150), (34.96, -185), (34.98, -185), (35.0, 140), (35.2, 155), (35.3, 160), (35.37, -185), (35.4, -185),
       (35.42, 150), (35.52, 140), (35.55, -185), (35.6, -185), (35.63, 150), (35.75, 140), (35.79, -185),
       (35.82, -185), (35.85, 148), (36.0, 150), (36.2, 138), (36.4, 145), (36.6, 150), (36.75, 160), (36.87, 169),
       (36.95, 185), (37.2, 183), (37.5, 186), (37.7, 182), (37.94, 185), (37.96, -185), (38.3, -185), (38.6, -185),
       (38.63, 160), (38.66, 150), (38.68, -185), (38.72, -185), (38.75, 150), (39.0, 138), (39.2, 145), (39.5, 150),
       (39.75, 135), (40.0, 140)]

# Field magnitude (nT)
BMAG = [(14.0, 0.0), (14.5, 0.02), (15.0, 0.0), (15.5, 0.03), (16.0, 0.05), (16.2, 0.1), (16.5, 0.12), (16.75, 0.2),
        (16.95, 0.8), (17.05, 1.3), (17.15, 1.45), (17.3, 1.35), (17.5, 1.4), (17.75, 1.42), (18.0, 1.4),
        (18.3, 1.42), (18.55, 1.4), (18.7, 1.24), (18.8, 1.45), (19.0, 1.45), (19.15, 1.3), (19.3, 1.13),
        (19.5, 1.05), (19.7, 0.9), (19.9, 0.88), (20.1, 0.85), (20.2, 0.82), (20.26, 2.6), (20.38, 4.5),
        (20.48, 6.0), (20.58, 7.0), (20.65, 6.7), (20.72, 6.2), (20.8, 5.8), (20.9, 5.2), (21.0, 5.6), (21.1, 5.8),
        (21.2, 5.0), (21.3, 3.6), (21.4, 3.2), (21.5, 2.6), (21.6, 2.2), (21.7, 1.8), (21.8, 1.45), (21.9, 1.8),
        (21.98, 2.2), (22.03, 2.35), (22.07, 0.5), (22.12, 0.33), (22.4, 0.3), (22.7, 0.4), (23.0, 0.35),
        (23.3, 0.5), (23.6, 0.4), (24.0, 0.38), (24.3, 0.45), (24.6, 0.32), (25.0, 0.3), (25.3, 0.35), (25.6, 0.45),
        (25.9, 0.55), (26.1, 0.65), (26.4, 0.75), (26.7, 0.7), (27.0, 0.72), (27.2, 0.68), (27.45, 0.7),
        (27.55, 0.3), (27.8, 0.22), (28.0, 0.3), (28.4, 0.25), (28.8, 0.22), (29.2, 0.3), (29.6, 0.32), (30.0, 0.35),
        (30.4, 0.42), (30.8, 0.48), (31.2, 0.55), (31.6, 0.6), (32.0, 0.62), (32.3, 0.5), (32.7, 0.45), (33.1, 0.4),
        (33.5, 0.38), (34.0, 0.3), (34.4, 0.25), (34.7, 0.12), (35.0, 0.05), (35.5, 0.0), (36.0, 0.02), (36.5, 0.05),
        (37.0, 0.08), (37.5, 0.06), (38.0, 0.1), (38.5, 0.05), (39.0, 0.12), (39.3, 0.15), (39.6, 0.05), (40.0, 0.02)]

# Orbit table
ORBIT_DAYS = [14, 16, 18, 20, 22, 24, 26, 28, 30, 32, 34, 36, 38, 40]
R_AU = ["5.04", "5.03", "5.03", "5.03", "5.02", "5.02", "5.01", "5.01", "5.00", "5.00", "4.99", "4.99", "4.99", "4.98"]
LATITUDE = ["-23.47", "-23.58", "-23.69", "-23.81", "-23.92", "-24.03", "-24.14", "-24.26", "-24.37", "-24.48",
            "-24.60", "-24.71", "-24.83", "-24.94"]

# ---------------- styling ----------------
BLACK = "#1c1c1c"
RED = "#e3262c"
GREEN = "#3fb43f"
NAVY = "#2b3595"
CYAN = "#80d8d2"
DBLUE = "#3b4cb0"

FRAME_W = 1138
LEFT_B = 62
RIGHT_B = 54
PANEL_W = LEFT_B + FRAME_W + RIGHT_B
TICK_FS = "18px"
HEADER_H = 36

XR = Range1d(14, 40)
X_MAJOR = list(range(14, 41))
X_MINOR = [round(14 + 0.2 * i, 2) for i in range(131)]


def split(pairs, log=False):
    xs = [a for a, b in pairs]
    ys = [(10 ** b if log else b) for a, b in pairs]
    return xs, ys


def hide_labels(ax):
    ax.major_label_text_color = None
    ax.major_label_standoff = 0


def style_common(ax):
    ax.axis_line_color = None
    ax.major_tick_out = 0
    ax.minor_tick_out = 0
    ax.major_tick_line_color = "black"
    ax.minor_tick_line_color = "black"
    ax.major_tick_line_width = 1.3
    ax.minor_tick_line_width = 1.0
    ax.major_label_text_font = FONT
    ax.major_label_text_font_size = TICK_FS
    ax.major_label_text_color = "#222222"


def style_x(ax, labels=False):
    style_common(ax)
    ax.ticker = FixedTicker(ticks=X_MAJOR, minor_ticks=X_MINOR)
    ax.major_tick_in = 6
    ax.minor_tick_in = 3
    if labels:
        ax.major_label_overrides = {d: "" for d in X_MAJOR if d % 2 == 1}
        ax.major_label_standoff = 10
    else:
        hide_labels(ax)


def style_y(ax, ticks, minor, labels=True, tick_len=7):
    style_common(ax)
    ax.ticker = FixedTicker(ticks=ticks, minor_ticks=minor)
    ax.major_tick_in = tick_len
    ax.minor_tick_in = tick_len
    if labels:
        ax.major_label_standoff = 6
    else:
        hide_labels(ax)


def make_panel(frame_h, top_b, bot_b, y_range, log=False, xlabels=False):
    p = figure(width=PANEL_W, height=frame_h + top_b + bot_b, x_range=XR, y_range=y_range,
               y_axis_type="log" if log else "linear", output_backend="svg", toolbar_location=None,
               min_border_left=LEFT_B, min_border_right=RIGHT_B, min_border_top=top_b, min_border_bottom=bot_b)
    p.grid.visible = False
    p.outline_line_color = "black"
    p.outline_line_width = 1.6
    p.outline_line_alpha = 1.0
    p.background_fill_color = "white"
    p.border_fill_color = "white"
    style_x(p.below[0], labels=xlabels)
    top = LinearAxis()
    style_x(top, labels=False)
    p.add_layout(top, "above")
    for d in EVENT_DAYS:
        p.add_layout(Span(location=d, dimension="height", line_color="black", line_width=1.2, line_dash="4 3"))
    return p


def right_axis(p, log, ticks, minor, labels=False, range_name="default"):
    ax = LogAxis(y_range_name=range_name) if log else LinearAxis(y_range_name=range_name)
    style_y(ax, ticks, minor, labels=labels)
    p.add_layout(ax, "right")
    return ax


LW = 1.3
panels = []

# --- Protons ---
pp = make_panel(333, 47 - HEADER_H, 12, Range1d(10 ** -4.12, 10 ** 5.1), log=True)
style_y(pp.left[0], [1e-4, 1e-1, 1e2, 1e5], [1e-3, 1e-2, 1, 10, 1e3, 1e4])
right_axis(pp, True, [1e-4, 1e-1, 1e2, 1e5], [1e-3, 1e-2, 1, 10, 1e3, 1e4])
for series, col in [(L21, CYAN), (L3, NAVY), (W1, GREEN), (P4, RED), (P1, BLACK)]:
    xs, ys = split(series, log=True)
    pp.line(xs, ys, line_color=col, line_width=LW)
pp.text(x=[34.63] * 5, y=[10 ** 4.6, 10 ** 4.11, 10 ** 3.62, 10 ** 3.11, 10 ** 2.6], text=PROTON_LEGEND,
        text_color=[BLACK, RED, GREEN, NAVY, CYAN], text_font=value(FONT), text_font_size=value("14.5px"),
        text_align="left", text_baseline="middle")
panels.append(pp)

# --- Delta C / C ---
pc = make_panel(160, 11, 19, Range1d(-10.2, 10.2))
style_y(pc.left[0], [-10, 0, 10], [])
right_axis(pc, False, [-10, 0, 10], [])
pc.add_layout(Span(location=0, dimension="width", line_color="black", line_width=1.5, line_dash="2 3"))
pc.line(DCC_DAY, DCC_VAL, line_color=BLACK, line_width=1.4)
pc.segment(x0=DCC_DAY, y0=[v - e for v, e in zip(DCC_VAL, DCC_ERR)],
           x1=DCC_DAY, y1=[v + e for v, e in zip(DCC_VAL, DCC_ERR)], line_color=BLACK, line_width=1.2)
pc.text(x=[39.8], y=[7.9], text=["MODULATION DETRENDED KET P190 (250 MeV - 2 GeV)"], text_color="#222222",
        text_font=value(FONT), text_font_size=value("14.5px"), text_align="right", text_baseline="middle")
panels.append(pc)

# --- Electrons ---
pe = make_panel(160, 20, 18, Range1d(1, 1e5), log=True)
style_y(pe.left[0], [1, 10, 100, 1e3, 1e4, 1e5], [])
right_axis(pe, True, [1, 10, 100, 1e3, 1e4, 1e5], [])
for series, col in [(DE4, NAVY), (DE3, GREEN), (DE2, RED), (DE1, BLACK)]:
    xs, ys = split(series, log=True)
    pe.line(xs, ys, line_color=col, line_width=LW)
pe.text(x=[34.63] * 4, y=[10 ** 4.44, 10 ** 3.86, 10 ** 3.3, 10 ** 2.74], text=ELECTRON_LEGEND,
        text_color=[BLACK, RED, GREEN, NAVY], text_font=value(FONT), text_font_size=value("14.5px"),
        text_align="left", text_baseline="middle")
panels.append(pe)

# --- Temperature / density ---
pt = make_panel(111, 20, 10, Range1d(10 ** 2.88, 1e6), log=True)
style_y(pt.left[0], [1e3, 1e4, 1e5, 1e6], [])
pt.extra_y_ranges = {"dens": Range1d(10 ** -3.16, 1e1)}
pt.extra_y_scales = {"dens": LogScale()}
right_axis(pt, True, [1e-3, 1e-1, 1e1], [1e-2, 1], labels=True, range_name="dens")
xs, ys = split(DENS, log=True)
pt.line(xs, ys, line_color=DBLUE, line_width=LW, y_range_name="dens")
xs, ys = split(TEMP, log=True)
pt.line(xs, ys, line_color=BLACK, line_width=LW)
panels.append(pt)

# --- Solar wind speed ---
pv = make_panel(112, 10, 17, Range1d(285, 915))
style_y(pv.left[0], [300, 600, 900], [])
right_axis(pv, False, [600], [])
xs, ys = split(VR)
pv.line(xs, ys, line_color=BLACK, line_width=LW)
panels.append(pv)

# --- B theta ---
pth = make_panel(57, 20, 5, Range1d(-115, 112))
style_y(pth.left[0], [-90, 0, 90], [])
right_axis(pth, False, [0], [])
xs, ys = split(BTH)
pth.line(xs, ys, line_color=BLACK, line_width=1.2)
panels.append(pth)

# --- B phi ---
pph = make_panel(64, 8, 5, Range1d(-220, 200))
style_y(pph.left[0], [0], [], labels=False)
right_axis(pph, False, [-180, 0, 180], [], labels=True)
xs, ys = split(BPH)
pph.line(xs, ys, line_color=BLACK, line_width=1.2)
panels.append(pph)

# --- B magnitude ---
pb = make_panel(113, 3, 59, Range1d(-0.12, 7.58), xlabels=True)
style_y(pb.left[0], [0.0, 3.5, 7.0], [])
pb.left[0].major_label_overrides = {0: "0.0", 3.5: "3.5", 7: "7.0"}
right_axis(pb, False, [3.5], [])
xb = pb.below[0]
xb.axis_label = "Day of Year 1993"
xb.axis_label_text_font = FONT
xb.axis_label_text_font_size = "19px"
xb.axis_label_text_font_style = "normal"
xb.axis_label_text_color = "#222222"
xb.axis_label_standoff = 6
xs, ys = split(BMAG)
pb.line(xs, ys, line_color=BLACK, line_width=1.3)
panels.append(pb)


def blank(w, h, xr, yr):
    f = figure(width=w, height=h, x_range=xr, y_range=yr, x_axis_type=None, y_axis_type=None,
               output_backend="svg", toolbar_location=None, min_border=0)
    f.min_border_left = f.min_border_right = f.min_border_top = f.min_border_bottom = 0
    f.grid.visible = False
    f.outline_line_color = None
    f.background_fill_color = "white"
    f.border_fill_color = "white"
    return f


PANELS_H = sum(p.height for p in panels)
TOP_Y = HEADER_H

# header
header = blank(1344, HEADER_H, Range1d(0, 1344), Range1d(HEADER_H, 0))
header.text(x=[115, 1248], y=[19, 19], text=["ESA ULYSSES DATA SYSTEM", "CIR  9"],
            text_align=["left", "right"], text_baseline="middle", text_font=value(FONT),
            text_font_size=value("28px"), text_color="#222222")

# y-axis titles (left and right)
left_lab = blank(50, PANELS_H, Range1d(0, 50), Range1d(TOP_Y + PANELS_H, TOP_Y))
left_lab.text(x=[22, 34, 30, 30, 29, 29, 29], y=[212, 482, 691, 858, 992, 1110, 1283],
              text=["Protons (/cm²/s/sr/Mev)", "ΔC/C %", "Electrons (/cm²/s/sr/Mev)", "T ( K )",
                    "Vᵣ (km/s)", "Bθ (deg)", "B (nT)"],
              angle=math.pi / 2, text_align="center", text_baseline="middle", text_font=value(FONT),
              text_font_size=value("18px"), text_color="#222222")
right_lab = blank(40, PANELS_H, Range1d(0, 40), Range1d(TOP_Y + PANELS_H, TOP_Y))
right_lab.text(x=[14, 26], y=[852, 1175], text=["Density (/cm³)", "Bφ (deg)"],
               angle=math.pi / 2, text_align="center", text_baseline="middle", text_font=value(FONT),
               text_font_size=value("18px"), text_color=[DBLUE, "#222222"])

# footer: event markers and orbit table
DAY_PER_PX = 26 / FRAME_W
FOOT_TOP = TOP_Y + PANELS_H
footer = blank(1344, 1498 - FOOT_TOP, Range1d(14 - 112 * DAY_PER_PX, 40 + 94 * DAY_PER_PX),
               Range1d(1498, FOOT_TOP))
footer.text(x=EVENT_DAYS, y=[FOOT_TOP + 11] * 3, text=EVENT_LABELS, x_offset=6, text_align="center",
            text_baseline="middle", text_font=value(FONT), text_font_size=value("15px"), text_color="#222222")
footer.text(x=ORBIT_DAYS, y=[1430] * len(ORBIT_DAYS), text=R_AU, text_align="center", text_baseline="middle",
            text_font=value(FONT), text_font_size=value("17px"), text_color="#222222")
footer.text(x=ORBIT_DAYS, y=[1464] * len(ORBIT_DAYS), text=LATITUDE, text_align="center",
            text_baseline="middle", text_font=value(FONT), text_font_size=value("17px"), text_color="#222222")
footer.line(x=[ORBIT_DAYS[0], ORBIT_DAYS[-1]], y=[1443, 1443], line_color="black", line_width=1.6)
tick_days = list(range(ORBIT_DAYS[0], ORBIT_DAYS[-1] + 1))
footer.segment(x0=tick_days, y0=[1439] * len(tick_days), x1=tick_days, y1=[1447] * len(tick_days),
               line_color="black", line_width=1.3)
footer.text(x=[14 - 90 * DAY_PER_PX, 14 - 90 * DAY_PER_PX], y=[1420, 1485], text=["R (AU)", "Latitude (°)"],
            text_align="left", text_baseline="middle", text_font=value(FONT), text_font_size=value("17px"),
            text_color="#222222")

layout = column(header, row(left_lab, column(*panels), right_lab), footer)

with open("out.html", "w") as fh:
    fh.write(file_html(layout, INLINE))
